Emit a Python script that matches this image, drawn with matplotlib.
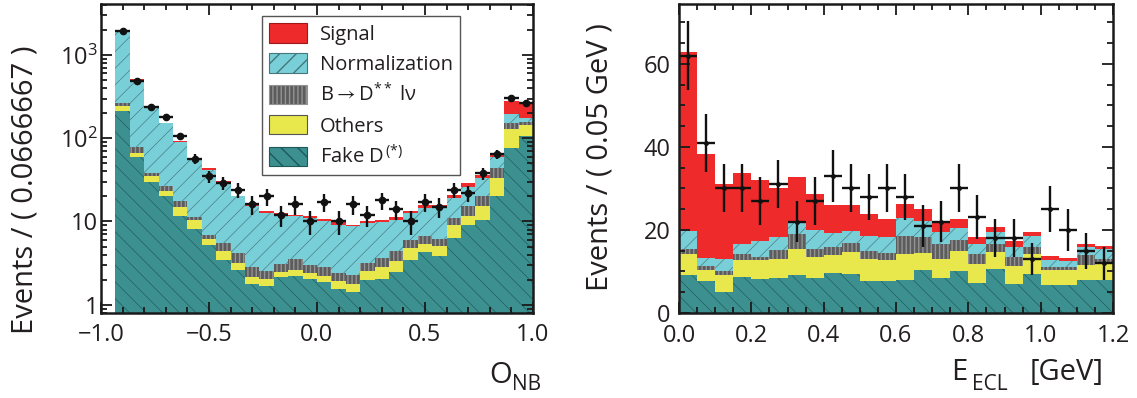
import numpy as np
import matplotlib
matplotlib.use("Agg")
import matplotlib.pyplot as plt
from matplotlib.patches import Patch
from matplotlib.ticker import FixedLocator, MultipleLocator, LogLocator, NullFormatter, FuncFormatter

# ---------------- data: left panel (O_NB), 30 bins from -1 to 1 ----------------
onb_edges_lo = -1.0
onb_edges_hi = 1.0
onb_nbins = 30
onb_fake = [0, 215, 60, 29.4, 20, 11.7, 8.1, 5.1, 3.4, 2.58, 1.74, 1.63, 2.09, 2.15, 2.0,
            1.85, 1.51, 1.38, 1.94, 2.0, 2.4, 3.4, 4.2, 3.8, 6.3, 9.1, 10.3, 20.3, 76, 107]
onb_others = [0, 29, 7, 5.3, 2.9, 3.2, 2.4, 1.0, 1.0, 0.58, 0.39, 0.37, 0.35, 0.43, 0.35,
              0.34, 0.39, 0.36, 0.56, 0.8, 0.9, 1.4, 1.1, 1.2, 2.6, 2.6, 5.1, 12.7, 52, 38]
onb_dss = [0, 19, 12, 4.0, 3.9, 2.5, 0.7, 0.8, 1.1, 0.94, 0.62, 0.5, 0.56, 0.92, 0.59,
           0.61, 0.45, 0.49, 0.66, 0.8, 1.1, 1.2, 1.4, 1.1, 2.1, 3.4, 4.6, 10.6, 26, 13]
onb_norm = [0, 1637, 422, 201, 124, 73.6, 46.3, 34.8, 23.9, 15.9, 12.35, 10.1, 9.0, 8.0, 8.06,
            7.2, 6.75, 6.47, 6.34, 6.1, 6.1, 6.6, 7.8, 9.0, 8.1, 10.7, 13, 16.4, 40, 16]
onb_signal = [0, 15, 7, 4, 3, 2, 1.0, 1.9, 0.8, 0.3, 1.0, 0.6, 0.6, 0.5, 0.7,
              0.7, 0.6, 0.4, 0.5, 0.6, 0.7, 0.6, 1.1, 0.5, 1.8, 3.0, 3, 7, 87, 89]
onb_data = [np.nan, 1950, 488, 235, 182, 105, 57, 35, 29, 24, 16, 20, 12, 16, 10,
            17, 10, 16, 12, 18, 14, 10, 17, 15, 24, 22, 38, 65, 302, 268]
onb_err = [0, 44, 22, 15.3, 13.5, 10.2, 7.5, 5.9, 5.4, 4.9, 4.0, 4.5, 3.5, 4.0, 3.2,
           4.1, 3.2, 4.0, 3.5, 4.2, 3.7, 3.2, 4.1, 3.9, 4.9, 4.7, 6.2, 8.1, 17.4, 16.4]

# ---------------- data: right panel (E_ECL), 24 bins from 0 to 1.2 ----------------
ecl_edges_lo = 0.0
ecl_edges_hi = 1.2
ecl_nbins = 24
ecl_fake = [9.1, 7.6, 5.1, 8.7, 8.1, 8.4, 9.2, 8.5, 9.6, 9.3, 7.7, 7.6, 8.0, 10.3, 8.5, 10.0,
            7.2, 10.7, 6.9, 9.5, 6.7, 6.7, 8.0, 8.0]
ecl_others = [5.0, 2.8, 4.0, 4.0, 4.6, 4.5, 6.3, 5.0, 4.3, 5.4, 5.4, 5.1, 6.3, 4.2, 4.6, 4.9,
              4.7, 4.0, 4.4, 4.8, 3.6, 3.7, 3.6, 3.9]
ecl_dss = [1.2, 0.9, 1.0, 1.4, 0.8, 2.2, 3.6, 2.0, 2.0, 2.2, 1.8, 1.8, 4.3, 3.7, 3.4, 2.6,
           2.2, 2.0, 2.2, 1.6, 0.8, 0.7, 2.3, 1.2]
ecl_norm = [4.5, 2.0, 3.0, 2.6, 3.8, 3.1, 2.6, 4.4, 3.4, 2.8, 3.7, 3.8, 4.3, 3.9, 3.0, 3.0,
            2.6, 2.7, 2.4, 2.6, 1.6, 1.4, 2.0, 2.2]
ecl_signal = [43.1, 24.9, 17.9, 17.1, 14.7, 11.9, 11.1, 8.7, 6.8, 6.4, 5.3, 4.4, 3.3, 2.9, 2.3, 2.2,
              1.6, 1.2, 1.4, 1.0, 1.0, 0.8, 0.6, 0.8]
ecl_data = [62, 41, 30, 30, 27, 31, 22, 27, 33, 30, 28, 30, 28, 21, 22, 30,
            23, 18, 18, 13, 25, 20, 15, 12]
ecl_err = [8.3, 7.0, 5.8, 5.8, 5.7, 5.8, 5.0, 5.7, 6.2, 5.8, 5.5, 5.8, 5.5, 5.0, 5.0, 5.8,
           5.3, 4.6, 4.6, 3.9, 5.5, 5.0, 4.3, 4.0]

legend_labels = ["Signal", "Normalization", r"B$\rightarrow$D$^{**}$ l" + "\u03bd", "Others",
                 r"Fake D$^{\,(*)}$"]

# ---------------- style ----------------
FONT = "Open Sans"
TXT = "#231f20"
plt.rcParams.update({
    "font.family": [FONT, "DejaVu Sans"],
    "mathtext.fontset": "custom",
    "mathtext.rm": FONT,
    "mathtext.it": FONT + ":italic",
    "mathtext.bf": FONT + ":bold",
    "mathtext.fallback": "stixsans",
    "axes.unicode_minus": True,
    "text.color": TXT,
    "xtick.color": TXT,
    "ytick.color": TXT,
})

C_SIG = "#ee2a2a"
C_NORM = "#79cfd8"
C_DSS = "#5c5c5c"
C_OTH = "#e8e84c"
C_FAKE = "#3c9090"
H_NORM = "#46767c"
H_FAKE = "#1f5858"

W, H = 1137, 398
fig = plt.figure(figsize=(W / 100, H / 100), dpi=100)


def axrect(x0, y0, x1, y1):
    return [x0 / W, 1 - y1 / H, (x1 - x0) / W, (y1 - y0) / H]


def px(x, y):
    return x / W, 1 - y / H


axL = fig.add_axes(axrect(101, 4, 533, 313))
axR = fig.add_axes(axrect(679, 4, 1113, 313))


def draw_stack(ax, edges, comps, base0):
    base = np.full(len(edges) - 1, base0, dtype=float)
    styles = [
        dict(facecolor=C_FAKE, edgecolor=H_FAKE, hatch="\\\\", hlw=0.45),
        dict(facecolor=C_OTH, edgecolor=C_OTH, hatch=None, hlw=0.5),
        dict(facecolor=C_DSS, edgecolor="#939393", hatch="||||", hlw=1.0),
        dict(facecolor=C_NORM, edgecolor=H_NORM, hatch="//", hlw=0.45),
        dict(facecolor=C_SIG, edgecolor=C_SIG, hatch=None, hlw=0.5),
    ]
    for vals, st in zip(comps, styles):
        vals = np.asarray(vals, dtype=float)
        top = base + vals
        with plt.rc_context({"hatch.linewidth": st["hlw"]}):
            ax.stairs(top, edges, baseline=base, fill=True, facecolor=st["facecolor"],
                      edgecolor=st["edgecolor"], hatch=st["hatch"], linewidth=0)
        base = top


def style_axes(ax):
    for s in ax.spines.values():
        s.set_linewidth(1.8)
        s.set_color("#1a1a1a")
    ax.tick_params(which="both", direction="in", top=True, right=True, width=1.3,
                   colors="#1a1a1a", labelcolor=TXT, labelsize=17)
    ax.tick_params(which="major", length=8)
    ax.tick_params(which="minor", length=4)


# ---- left panel ----
edgesL = np.linspace(onb_edges_lo, onb_edges_hi, onb_nbins + 1)
centersL = 0.5 * (edgesL[:-1] + edgesL[1:])
draw_stack(axL, edgesL, [onb_fake, onb_others, onb_dss, onb_norm, onb_signal], 0.05)
halfL = 0.5 * (edgesL[1] - edgesL[0])
axL.errorbar(centersL, onb_data, yerr=onb_err, xerr=halfL, fmt="o", color="#111111",
             ms=4.5, elinewidth=1.7, capsize=0, zorder=5)
axL.set_yscale("log")
axL.set_xlim(-1.0, 1.0)
axL.set_ylim(0.795, 4100)
style_axes(axL)
axL.xaxis.set_major_locator(MultipleLocator(0.5))
axL.xaxis.set_minor_locator(MultipleLocator(0.1))
axL.yaxis.set_major_locator(FixedLocator([1, 10, 100, 1000]))
axL.yaxis.set_minor_locator(LogLocator(base=10, subs=np.arange(2, 10)))
axL.yaxis.set_minor_formatter(NullFormatter())


def logfmt(v, pos):
    if v < 5:
        return "1"
    if v < 50:
        return "10"
    if v < 500:
        return "$10^{2}$"
    return "$10^{3}$"


axL.yaxis.set_major_formatter(FuncFormatter(logfmt))
axL.xaxis.set_major_formatter(FuncFormatter(lambda v, p: ("\u2212%.1f" % abs(v)) if v < -1e-9 else "%.1f" % abs(v)))
axL.tick_params(axis="y", pad=2)
axL.tick_params(axis="x", pad=7)

handles = []
hstyles = [
    dict(facecolor=C_SIG, edgecolor="#a01818", hatch=None, hlw=0.5),
    dict(facecolor=C_NORM, edgecolor=H_NORM, hatch="//", hlw=0.45),
    dict(facecolor=C_DSS, edgecolor="#939393", hatch="||||", hlw=1.0),
    dict(facecolor=C_OTH, edgecolor="#555555", hatch=None, hlw=0.5),
    dict(facecolor=C_FAKE, edgecolor=H_FAKE, hatch="\\\\", hlw=0.45),
]
for lab, st in zip(legend_labels, hstyles):
    with plt.rc_context({"hatch.linewidth": st["hlw"]}):
        handles.append(Patch(facecolor=st["facecolor"], edgecolor=st["edgecolor"],
                             hatch=st["hatch"], linewidth=0.8, label=lab))
leg = axL.legend(handles=handles, loc="upper left", bbox_to_anchor=(0.373, 0.96),
                 fontsize=14.5, frameon=True, fancybox=False, framealpha=1,
                 handlelength=1.9, handleheight=1.1, labelspacing=0.42,
                 borderpad=0.35, handletextpad=0.6, borderaxespad=0)
leg.get_frame().set_edgecolor("#555555")
leg.get_frame().set_linewidth(1.0)
for t in leg.get_texts():
    t.set_color(TXT)

# ---- right panel ----
edgesR = np.linspace(ecl_edges_lo, ecl_edges_hi, ecl_nbins + 1)
centersR = 0.5 * (edgesR[:-1] + edgesR[1:])
draw_stack(axR, edgesR, [ecl_fake, ecl_others, ecl_dss, ecl_norm, ecl_signal], 0.0)
halfR = 0.5 * (edgesR[1] - edgesR[0])
axR.errorbar(centersR, ecl_data, yerr=ecl_err, xerr=halfR, fmt="o", color="#111111",
             ms=2.5, elinewidth=1.7, capsize=0, zorder=5)
axR.set_xlim(0.0, 1.2)
axR.set_ylim(0, 74.4)
style_axes(axR)
axR.xaxis.set_major_locator(MultipleLocator(0.2))
axR.xaxis.set_minor_locator(MultipleLocator(0.05))
axR.yaxis.set_major_locator(MultipleLocator(20))
axR.yaxis.set_minor_locator(MultipleLocator(5))
axR.xaxis.set_major_formatter(FuncFormatter(lambda v, p: "%.1f" % v))
axR.yaxis.set_major_formatter(FuncFormatter(lambda v, p: "%d" % round(v)))
axR.tick_params(axis="y", pad=6)
axR.tick_params(axis="x", pad=8)

# ---- axis titles ----
fig.text(*px(25, 190), "Events / ( 0.0666667 )", rotation=90, fontsize=21,
         ha="center", va="center")
fig.text(*px(600, 157), "Events / ( 0.05 GeV )", rotation=90, fontsize=21,
         ha="center", va="center")
fig.text(*px(489, 383), "O", fontsize=21, ha="left", va="baseline")
fig.text(*px(512, 390), "NB", fontsize=15, ha="left", va="baseline")
fig.text(*px(951, 380), "E", fontsize=21, ha="left", va="baseline")
fig.text(*px(972, 390), "ECL", fontsize=15, ha="left", va="baseline")
fig.text(*px(1030, 380), "[GeV]", fontsize=21, ha="left", va="baseline")

fig.savefig("out.png", dpi=100)
